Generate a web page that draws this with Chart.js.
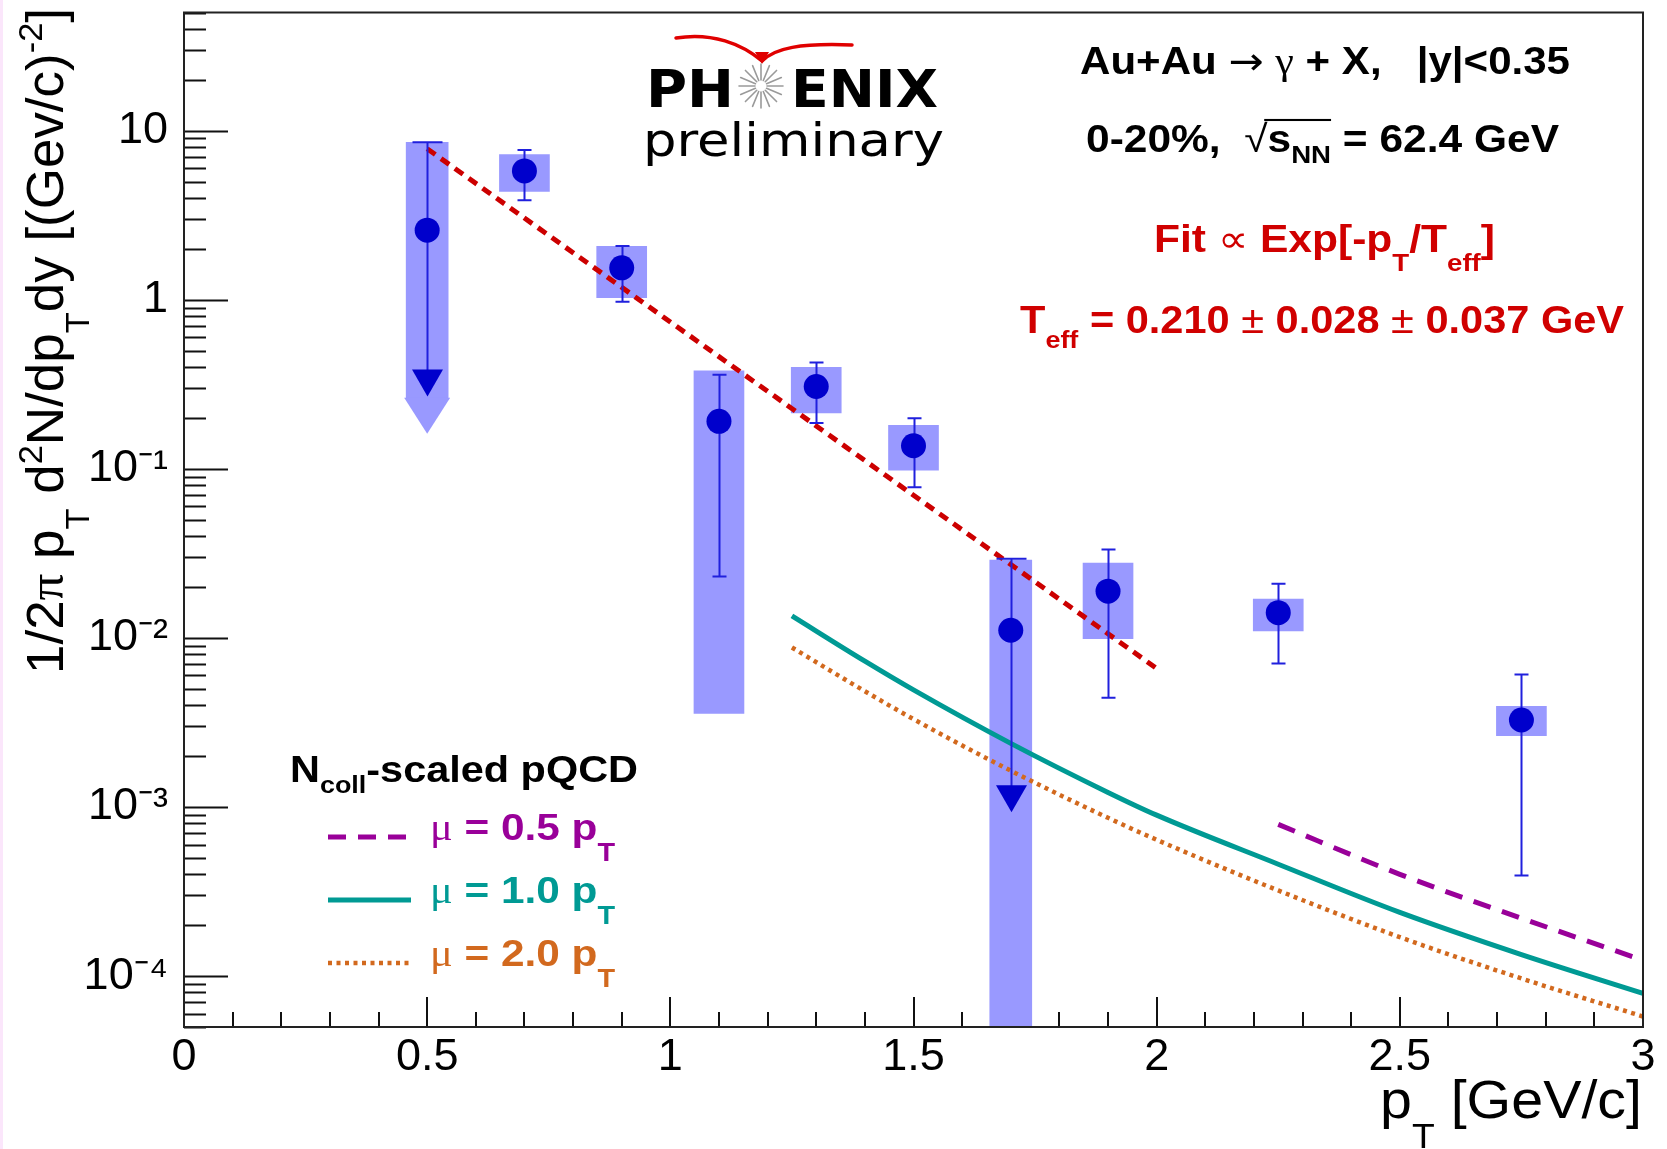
<!DOCTYPE html>
<html>
<head>
<meta charset="utf-8">
<script src="https://cdn.jsdelivr.net/npm/chart.js@4.4.1/dist/chart.umd.min.js"></script>
<style>
  html, body { margin: 0; padding: 0; background: #fff; }
  canvas { display: block; }
</style>
</head>
<body>
<canvas id="chart" width="1667" height="1149"></canvas>
<script>
// measured points (pT in GeV/c), yields, stat errors and systematic boxes
const pt      = [0.5, 0.7, 0.9, 1.1, 1.3, 1.5, 1.7, 1.9, 2.25, 2.75];
const yieldV  = [2.58, 5.78, 1.545, 0.191, 0.307, 0.137, 0.0111, 0.0189, 0.0141, 0.00327];
const statHi  = [8.53, 7.69, 2.08, 0.36, 0.426, 0.199, 0.0294, 0.0334, 0.0209, 0.00607];
const statLo  = [0.268, 3.88, 0.975, 0.0231, 0.187, 0.0778, 0.00093, 0.00443, 0.00706, 0.000393];
const sysHi   = [8.53, 7.21, 2.07, 0.38, 0.398, 0.181, 0.0289, 0.0277, 0.0170, 0.00394];
const sysLo   = [0.26, 4.38, 1.03, 0.00358, 0.214, 0.0982, 0.00001, 0.0099, 0.0110, 0.00264];
const upperLimit = [true, false, false, false, false, false, true, false, false, false];

// exponential fit, drawn between its end points
const fitPt = [0.5, 2.0];
const fitY  = [7.82, 0.0066];

// Ncoll-scaled pQCD curves
const qcdPt = [1.25, 1.4, 1.5, 1.7, 1.9, 2.0, 2.25, 2.5, 2.75, 3.0];
const mu10Y = [0.0135, 0.00729, 0.00493, 0.00238, 0.00122, 0.000895, 0.000459, 0.000238, 0.000134, 0.000079];
const mu20Y = [0.00878, 0.00484, 0.00331, 0.00164, 0.000863, 0.00064, 0.000321, 0.00017, 0.0000968, 0.0000577];
const mu05Pt = [2.25, 2.5, 2.75, 3.0];
const mu05Y  = [0.000789, 0.0004, 0.00022, 0.000124];
const qcdLabels = ['0.5', '1.0', '2.0'];

// axis tick labels
const xMajor = [0, 0.5, 1, 1.5, 2, 2.5, 3];
const xTickLabels = ['0', '0.5', '1', '1.5', '2', '2.5', '3'];
const yDecades = [1e-4, 1e-3, 1e-2, 1e-1, 1, 10];
const yTickLabels = ['10\u207B\u2074', '10\u207B\u00B3', '10\u207B\u00B2', '10\u207B\u00B9', '1', '10'];

const SANS = '"Liberation Sans", Arial, Helvetica, sans-serif';
const SERIF = '"Liberation Serif", "DejaVu Serif", serif';
const WIDE = '"DejaVu Sans", Verdana, sans-serif';
const BOX = '#9999ff';
const MARK = '#0000cc';
const ERR = '#2020dd';
const RED = '#d00000';

const xy = (xs, ys) => xs.map((x, i) => ({ x: x, y: ys[i] }));
const idx = pt.map((_, i) => i);

// rich text: segments with sub/superscripts, optional width fit and rotation
function drawRich(ctx, segs, x, y, o) {
  const size = o.size;
  const items = segs.map(s => {
    const small = s.sub || s.sup;
    const sz = size * (small ? (o.subScale || 0.65) : 1);
    const font = (s.weight || o.weight || 'normal') + ' ' + sz + 'px ' + (s.family || o.family || SANS);
    ctx.font = font;
    return { s: s, font: font, w: ctx.measureText(s.t).width };
  });
  const total = items.reduce((a, it) => a + it.w, 0);
  const k = o.width ? o.width / total : 1;
  ctx.save();
  ctx.translate(x, y);
  if (o.rotate) ctx.rotate(o.rotate);
  ctx.scale(k, 1);
  ctx.fillStyle = o.color || '#000';
  ctx.textAlign = 'left';
  ctx.textBaseline = 'alphabetic';
  let cx = o.align === 'right' ? -total : 0;
  let ov = null;
  for (const it of items) {
    ctx.font = it.font;
    const dy = it.s.sub ? size * (o.subDrop || 0.45) : it.s.sup ? -size * (o.supRise || 0.42) : 0;
    ctx.fillText(it.s.t, cx, dy);
    if (it.s.over) { if (!ov) ov = [cx, cx]; ov[1] = cx + it.w; }
    cx += it.w;
  }
  if (ov) ctx.fillRect(ov[0] - 3, -size * 0.87, ov[1] - ov[0] + 3, Math.max(2, size * 0.055));
  ctx.restore();
}

function downTriangle(ctx, x, tipY, w, h) {
  ctx.beginPath();
  ctx.moveTo(x - w / 2, tipY - h);
  ctx.lineTo(x + w / 2, tipY - h);
  ctx.lineTo(x, tipY);
  ctx.closePath();
  ctx.fill();
}

const decor = {
  id: 'decor',
  beforeDraw(chart) {
    const ctx = chart.ctx;
    ctx.save();
    ctx.fillStyle = '#fff';
    ctx.fillRect(0, 0, chart.width, chart.height);
    ctx.fillStyle = '#fbe6fb';
    ctx.fillRect(0, 0, 3, chart.height);
    ctx.restore();
  },
  beforeDatasetsDraw(chart) {
    // ROOT style ticks, pointing into the frame
    const { ctx, chartArea: a } = chart;
    const xs = chart.scales.x, ys = chart.scales.y;
    ctx.save();
    ctx.strokeStyle = '#111';
    ctx.lineWidth = 2;
    ctx.beginPath();
    ys.ticks.forEach(t => {
      const p = Math.round(ys.getPixelForValue(t.value)) + 0.5;
      if (p < a.top - 1 || p > a.bottom + 1) return;
      const major = yDecades.some(d => Math.abs(Math.log10(d) - Math.log10(t.value)) < 1e-6);
      ctx.moveTo(a.left, p);
      ctx.lineTo(a.left + (major ? 44 : 22), p);
    });
    xs.ticks.forEach(t => {
      const p = Math.round(xs.getPixelForValue(t.value));
      const major = xMajor.some(m => Math.abs(m - t.value) < 1e-6);
      ctx.moveTo(p, a.bottom);
      ctx.lineTo(p, a.bottom - (major ? 30 : 15));
    });
    ctx.stroke();
    ctx.restore();
  },
  afterDatasetDraw(chart, args) {
    // wide arrow head under the systematic box of an upper limit
    if (args.index !== 6) return;
    const { ctx, chartArea: a } = chart;
    const xs = chart.scales.x, ys = chart.scales.y;
    ctx.save();
    ctx.beginPath();
    ctx.rect(a.left, a.top, a.right - a.left, a.bottom - a.top);
    ctx.clip();
    ctx.fillStyle = BOX;
    idx.filter(i => upperLimit[i]).forEach(i => {
      const x = xs.getPixelForValue(pt[i]);
      const yb = ys.getPixelForValue(sysLo[i]);
      downTriangle(ctx, x, yb + 35, 46, 36);
    });
    ctx.restore();
  },
  beforeDatasetDraw(chart, args) {
    // statistical error bars, drawn just under the markers
    if (args.index !== 0) return;
    const ctx = chart.ctx;
    const xs = chart.scales.x, ys = chart.scales.y;
    ctx.save();
    ctx.strokeStyle = ERR;
    ctx.lineWidth = 2;
    idx.forEach(i => {
      const x = Math.round(xs.getPixelForValue(pt[i])) + 0.5;
      const yh = ys.getPixelForValue(statHi[i]);
      const yl = ys.getPixelForValue(statLo[i]);
      ctx.beginPath();
      if (upperLimit[i]) {
        ctx.moveTo(x, yh); ctx.lineTo(x, yl - 20);
        ctx.moveTo(x - 15, yh); ctx.lineTo(x + 15, yh);
        ctx.stroke();
        ctx.fillStyle = MARK;
        downTriangle(ctx, x, yl, 31, 27);
      } else {
        ctx.moveTo(x, yh); ctx.lineTo(x, yl);
        ctx.moveTo(x - 7, yh); ctx.lineTo(x + 7, yh);
        ctx.moveTo(x - 7, yl); ctx.lineTo(x + 7, yl);
        ctx.stroke();
      }
    });
    ctx.restore();
  },
  afterDatasetsDraw(chart) {
    const { ctx, chartArea: a } = chart;
    ctx.save();
    ctx.strokeStyle = '#222';
    ctx.lineWidth = 2;
    ctx.strokeRect(a.left, a.top, a.right - a.left, a.bottom - a.top);
    ctx.restore();
  },
  afterDraw(chart) {
    const ctx = chart.ctx;
    const ds = chart.data.datasets;

    // axis titles
    drawRich(ctx, [
      { t: '1/2' }, { t: '\u03C0', family: SERIF }, { t: ' p' }, { t: 'T', sub: true },
      { t: ' d' }, { t: '2', sup: true }, { t: 'N/dp' }, { t: 'T', sub: true },
      { t: 'dy [(Gev/c)' }, { t: '-2', sup: true }, { t: ']' }
    ], 63, 8, { size: 51, rotate: -Math.PI / 2, align: 'right', width: 666, subDrop: 0.5 });
    drawRich(ctx, [{ t: 'p' }, { t: 'T', sub: true }, { t: ' [GeV/c]' }],
      1642, 1118, { size: 54, align: 'right', width: 262, subDrop: 0.55 });

    // PHENIX logo
    ctx.save();
    ctx.strokeStyle = '#e00000';
    ctx.fillStyle = '#e00000';
    ctx.lineWidth = 3.5;
    ctx.lineCap = 'round';
    ctx.beginPath();
    ctx.moveTo(676, 38);
    ctx.bezierCurveTo(712, 32, 742, 44, 762, 61);
    ctx.moveTo(762, 61);
    ctx.bezierCurveTo(775, 48, 800, 43, 852, 45);
    ctx.stroke();
    downTriangle(ctx, 762, 64, 14, 12);
    ctx.strokeStyle = '#9a9a9a';
    ctx.lineWidth = 1.6;
    ctx.beginPath();
    for (let r = 0; r < 16; r++) {
      const ang = r * Math.PI / 8;
      ctx.moveTo(761 + Math.cos(ang) * 6, 86 + Math.sin(ang) * 6);
      ctx.lineTo(761 + Math.cos(ang) * 22, 86 + Math.sin(ang) * 22);
    }
    ctx.stroke();
    ctx.restore();
    drawRich(ctx, [{ t: 'PH' }], 646, 107, { size: 51, weight: 'bold', family: WIDE, width: 88 });
    drawRich(ctx, [{ t: 'ENIX' }], 791, 107, { size: 51, weight: 'bold', family: WIDE, width: 147 });
    drawRich(ctx, [{ t: 'preliminary' }], 643, 156, { size: 47, family: WIDE, width: 301 });

    // collision info and fit result
    drawRich(ctx, [
      { t: 'Au+Au ' }, { t: '\u2192', weight: 'normal', family: WIDE }, { t: ' ' },
      { t: '\u03B3', weight: 'normal', family: SERIF }, { t: ' + X,   |y|<0.35' }
    ], 1080, 74, { size: 38, weight: 'bold', width: 490 });
    drawRich(ctx, [
      { t: '0-20%,  ' }, { t: '\u221A', weight: 'normal' }, { t: 's', over: true },
      { t: 'NN', sub: true, over: true }, { t: ' = 62.4 GeV' }
    ], 1086, 152, { size: 38, weight: 'bold', width: 473, subDrop: 0.3 });
    drawRich(ctx, [
      { t: 'Fit ' }, { t: '\u221D', weight: 'normal' }, { t: ' Exp[-p' }, { t: 'T', sub: true },
      { t: '/T' }, { t: 'eff', sub: true }, { t: ']' }
    ], 1154, 252, { size: 38, weight: 'bold', width: 341, color: RED, subDrop: 0.5 });
    drawRich(ctx, [
      { t: 'T' }, { t: 'eff', sub: true }, { t: ' = 0.210 ' }, { t: '\u00B1', weight: 'normal' },
      { t: ' 0.028 ' }, { t: '\u00B1', weight: 'normal' }, { t: ' 0.037 GeV' }
    ], 1020, 333, { size: 38, weight: 'bold', width: 604, color: RED, subDrop: 0.4 });

    // legend for the pQCD curves
    drawRich(ctx, [{ t: 'N' }, { t: 'coll', sub: true }, { t: '-scaled pQCD' }],
      290, 782, { size: 37, weight: 'bold', width: 348, subDrop: 0.3 });
    [2, 3, 4].forEach((d, k) => {
      const set = ds[d];
      const ly = 837 + k * 63;
      ctx.save();
      ctx.strokeStyle = set.borderColor;
      ctx.lineWidth = set.borderWidth;
      ctx.setLineDash(set.borderDash || []);
      ctx.beginPath();
      ctx.moveTo(328, ly);
      ctx.lineTo(411, ly);
      ctx.stroke();
      ctx.restore();
      drawRich(ctx, [
        { t: '\u03BC', weight: 'normal', family: SERIF }, { t: ' = ' + qcdLabels[k] + ' p' }, { t: 'T', sub: true }
      ], 430, ly + 3, { size: 37, weight: 'bold', width: 185, color: set.borderColor, subScale: 0.68, subDrop: 0.58 });
    });
  }
};

new Chart(document.getElementById('chart'), {
  type: 'scatter',
  data: {
    datasets: [
      {
        type: 'scatter', label: 'data', order: 0,
        data: xy(pt, yieldV),
        pointRadius: 12.5, pointBackgroundColor: MARK, pointBorderWidth: 0
      },
      {
        type: 'line', label: 'fit', order: 1,
        data: xy(fitPt, fitY),
        borderColor: '#cc0000', borderWidth: 5, borderDash: [10, 7], pointRadius: 0
      },
      {
        type: 'line', label: 'mu = 0.5 pT', order: 1,
        data: xy(mu05Pt, mu05Y),
        borderColor: '#990099', borderWidth: 5, borderDash: [18, 12], pointRadius: 0,
        cubicInterpolationMode: 'monotone'
      },
      {
        type: 'line', label: 'mu = 1.0 pT', order: 1,
        data: xy(qcdPt, mu10Y),
        borderColor: '#009a94', borderWidth: 5, pointRadius: 0,
        cubicInterpolationMode: 'monotone'
      },
      {
        type: 'line', label: 'mu = 2.0 pT', order: 1,
        data: xy(qcdPt, mu20Y),
        borderColor: '#d2691e', borderWidth: 4.5, borderDash: [4, 4.5], pointRadius: 0,
        cubicInterpolationMode: 'monotone'
      },
      {
        type: 'bar', label: 'sys', order: 2, grouped: false,
        data: idx.filter(i => !upperLimit[i]).map(i => ({ x: pt[i], y: [sysLo[i], sysHi[i]] })),
        backgroundColor: BOX, borderWidth: 0, barThickness: 50
      },
      {
        type: 'bar', label: 'sys limit', order: 2, grouped: false,
        data: idx.filter(i => upperLimit[i]).map(i => ({ x: pt[i], y: [sysLo[i], sysHi[i]] })),
        backgroundColor: BOX, borderWidth: 0, barThickness: 42
      }
    ]
  },
  options: {
    responsive: false,
    animation: false,
    events: [],
    layout: { padding: { top: 11, right: 24, left: 0, bottom: 0 } },
    plugins: { legend: { display: false }, tooltip: { enabled: false } },
    scales: {
      x: {
        type: 'linear', min: 0, max: 3, offset: false,
        grid: { display: false, drawTicks: false },
        border: { display: false },
        afterBuildTicks(s) {
          const t = [];
          for (let i = 0; i <= 30; i++) t.push({ value: i / 10 });
          s.ticks = t;
        },
        afterFit(s) { s.height = 122; s.paddingLeft = 0; s.paddingRight = 0; },
        ticks: {
          autoSkip: false, maxRotation: 0, minRotation: 0, padding: 4,
          color: '#000', font: { family: SANS, size: 45 },
          callback(v) {
            const i = xMajor.findIndex(m => Math.abs(m - v) < 1e-6);
            return i >= 0 ? xTickLabels[i] : '';
          }
        }
      },
      y: {
        type: 'logarithmic', min: 5e-5, max: 50,
        grid: { display: false, drawTicks: false },
        border: { display: false },
        afterBuildTicks(s) {
          const t = [];
          for (let e = -5; e <= 1; e++) {
            for (let m = 1; m <= 9; m++) {
              const v = m * Math.pow(10, e);
              if (v >= 5e-5 * 0.999 && v <= 50 * 1.001) t.push({ value: v });
            }
          }
          s.ticks = t;
        },
        afterFit(s) { s.width = 184; s.paddingTop = 0; s.paddingBottom = 0; },
        ticks: {
          autoSkip: false, padding: 16,
          color: '#000', font: { family: SANS, size: 45 },
          callback(v) {
            const i = yDecades.findIndex(d => Math.abs(Math.log10(d) - Math.log10(v)) < 1e-6);
            return i >= 0 ? yTickLabels[i] : '';
          }
        }
      }
    }
  },
  plugins: [decor]
});
</script>
</body>
</html>
